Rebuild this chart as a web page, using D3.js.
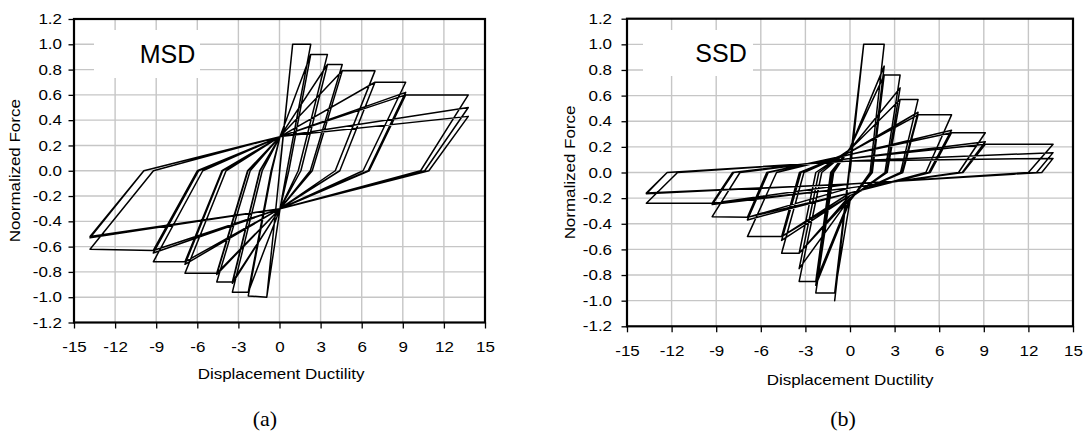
<!DOCTYPE html>
<html>
<head>
<meta charset="utf-8">
<script src="https://d3js.org/d3.v7.min.js"></script>
<style>
  body { margin: 0; background: #fff; }
</style>
</head>
<body>
<svg id="chart"></svg>
<script>
const xTicks = [-15, -12, -9, -6, -3, 0, 3, 6, 9, 12, 15];
const yTicks = [-1.2, -1.0, -0.8, -0.6, -0.4, -0.2, 0.0, 0.2, 0.4, 0.6, 0.8, 1.0, 1.2];

// MSD hysteresis: [displacement ductility, normalized force]
const msdPath = [
  [0, 0], [0.96, 1.0], [-0.93, -1.0], [0.96, 1.0], [-0.93, -1.0], [0.96, 1.0], [2.28, 1.0],
  [0.54, 0], [0.04, -0.30], [-0.93, -1.0], [-2.28, -0.99], [-0.56, 0], [0.04, 0.27], [2.28, 0.92],
  [0.68, 0], [0.04, -0.30], [-2.28, -0.96], [-0.61, 0], [0.04, 0.27], [2.28, 0.92],
  [0.68, 0], [0.04, -0.30], [-2.28, -0.96],
  [-0.61, 0], [0.04, 0.27], [2.28, 0.92], [3.5, 0.92], [1.37, 0], [0.04, -0.30], [-2.28, -0.96], [-3.44, -0.96],
  [-1.26, 0], [0.04, 0.27], [3.5, 0.84], [1.56, 0], [0.04, -0.30], [-3.44, -0.89],
  [-1.42, 0], [0.04, 0.27], [3.5, 0.84], [1.56, 0], [0.04, -0.30], [-3.44, -0.88],
  [-1.44, 0], [0.04, 0.27], [3.5, 0.84], [4.58, 0.84], [2.25, 0], [0.04, -0.30], [-3.44, -0.88], [-4.58, -0.88],
  [-2.14, 0], [0.04, 0.27], [4.58, 0.79], [2.39, 0], [0.04, -0.30], [-4.58, -0.82],
  [-2.3, 0], [0.04, 0.27], [4.58, 0.79], [2.39, 0], [0.04, -0.30], [-4.58, -0.81],
  [-2.33, 0], [0.04, 0.27], [4.58, 0.79], [6.97, 0.79], [4.07, 0], [0.04, -0.30], [-4.58, -0.81], [-6.9, -0.81],
  [-3.9, 0], [0.04, 0.27], [6.97, 0.70], [4.4, 0], [0.04, -0.30], [-6.9, -0.74],
  [-4.15, 0], [0.04, 0.27], [6.97, 0.70], [4.4, 0], [0.04, -0.30], [-6.9, -0.72],
  [-4.2, 0], [0.04, 0.27], [6.97, 0.70], [9.21, 0.70], [6.1, 0], [0.04, -0.30], [-6.9, -0.72], [-9.21, -0.72],
  [-5.6, 0], [0.04, 0.27], [9.21, 0.62], [6.47, 0], [0.04, -0.30], [-9.21, -0.65],
  [-5.9, 0], [0.04, 0.27], [9.21, 0.60], [6.55, 0], [0.04, -0.30], [-9.21, -0.63],
  [-6.0, 0], [0.04, 0.27], [9.21, 0.60], [13.78, 0.60], [10.3, 0], [0.04, -0.30], [-9.21, -0.63], [-13.83, -0.62],
  [-9.2, 0], [0.04, 0.27], [13.78, 0.50], [10.6, 0], [0.04, -0.30], [-13.83, -0.53],
  [-9.9, 0], [0.04, 0.27], [13.78, 0.43], [10.9, 0], [0.04, -0.30], [-13.83, -0.52], [-9.9, 0]
];

// SSD hysteresis
const ssdPath = [
  [0, 0], [0.92, 1.0], [-1.03, -1.0], [0.92, 1.0], [-1.03, -0.94], [0.92, 1.0], [2.3, 1.0],
  [1.35, 0], [0, -0.22], [-1.03, -0.94], [-2.3, -0.94], [-1.1, 0], [0, 0.19], [2.3, 0.83],
  [1.45, 0], [0, -0.22], [-2.3, -0.88], [-1.2, 0], [0, 0.19], [2.3, 0.76],
  [1.5, 0], [0, -0.22], [-2.3, -0.85],
  [-1.3, 0], [0, 0.19], [2.3, 0.76], [3.37, 0.76], [2.35, 0], [0, -0.2], [-2.3, -0.85], [-3.42, -0.85],
  [-1.9, 0], [0, 0.18], [3.37, 0.66], [2.45, 0], [0, -0.2], [-3.42, -0.75],
  [-2.1, 0], [0, 0.18], [3.37, 0.57], [2.5, 0], [0, -0.2], [-3.42, -0.63],
  [-2.3, 0], [0, 0.18], [3.37, 0.57], [4.58, 0.57], [3.4, 0], [0, -0.18], [-3.42, -0.63], [-4.6, -0.63],
  [-3.1, 0], [0, 0.16], [4.58, 0.47], [3.5, 0], [0, -0.18], [-4.6, -0.53],
  [-3.3, 0], [0, 0.16], [4.58, 0.45], [3.55, 0], [0, -0.18], [-4.6, -0.50],
  [-3.4, 0], [0, 0.16], [4.58, 0.45], [6.83, 0.45], [5.1, 0], [0, -0.16], [-4.6, -0.50], [-6.9, -0.50],
  [-4.94, 0], [0, 0.14], [6.83, 0.33], [5.3, 0], [0, -0.16], [-6.9, -0.37],
  [-5.5, 0], [0, 0.14], [6.83, 0.31], [5.4, 0], [0, -0.16], [-6.9, -0.35],
  [-5.6, 0], [0, 0.14], [6.83, 0.31], [9.1, 0.31], [7.3, 0], [0, -0.12], [-6.9, -0.35], [-9.27, -0.345],
  [-7.4, 0], [0, 0.11], [9.1, 0.24], [7.55, 0], [0, -0.12], [-9.27, -0.25],
  [-7.83, 0], [0, 0.11], [9.1, 0.22], [7.6, 0], [0, -0.12], [-9.27, -0.24],
  [-7.9, 0], [0, 0.11], [9.1, 0.22], [13.66, 0.22], [12.0, 0], [0, -0.09], [-9.27, -0.24], [-13.7, -0.24],
  [-11.6, 0], [0, 0.09], [13.66, 0.155], [12.55, 0], [0, -0.09], [-13.7, -0.165],
  [-12.3, 0], [0, 0.09], [13.66, 0.11], [12.9, 0], [0, -0.09], [-13.7, -0.16], [-12.3, 0]
];

const width = 1084, height = 436;
const sans = '"Liberation Sans", Arial, sans-serif';
const serif = '"Liberation Serif", "DejaVu Serif", serif';
const stretch = 1.17;

const panels = [
  { path: msdPath, name: "MSD", yTitle: "Noormalized Force", sub: "(a)",
    left: 74, right: 485, top: 19, bottom: 322.5,
    box: [94, 30, 200, 78], nameX: 167.5, nameY: 63.3,
    yPad: 4.8, xTitleX: 281, xTitleY: 379, yTitleX: 19.5, subX: 265 },
  { path: ssdPath, name: "SSD", yTitle: "Normalized Force", sub: "(b)",
    left: 627, right: 1073, top: 18.7, bottom: 326.3,
    box: [643, 30, 753, 76], nameX: 721, nameY: 61.7,
    yPad: 7.3, xTitleX: 850, xTitleY: 384.5, yTitleX: 575, subX: 843 }
];

const svg = d3.select("#chart")
  .attr("width", width)
  .attr("height", height)
  .attr("viewBox", [0, 0, width, height]);

svg.append("rect").attr("width", width).attr("height", height).attr("fill", "#fff");

panels.forEach(p => {
  const x = d3.scaleLinear().domain([-15, 15]).range([p.left, p.right]);
  const y = d3.scaleLinear().domain([-1.2, 1.2]).range([p.bottom, p.top]);
  const g = svg.append("g");

  // grid
  g.append("g").selectAll("line")
    .data(xTicks.slice(1, -1))
    .join("line")
    .attr("x1", d => x(d)).attr("x2", d => x(d))
    .attr("y1", p.top).attr("y2", p.bottom)
    .attr("stroke", "#c6c6c6").attr("stroke-width", 1.4);
  g.append("g").selectAll("line")
    .data(yTicks.slice(1, -1))
    .join("line")
    .attr("y1", d => y(d)).attr("y2", d => y(d))
    .attr("x1", p.left).attr("x2", p.right)
    .attr("stroke", "#c6c6c6").attr("stroke-width", 1.4);

  // name box
  g.append("rect")
    .attr("x", p.box[0]).attr("y", p.box[1])
    .attr("width", p.box[2] - p.box[0]).attr("height", p.box[3] - p.box[1])
    .attr("fill", "#fff");
  g.append("text")
    .attr("x", p.nameX).attr("y", p.nameY)
    .attr("text-anchor", "middle")
    .style("font-family", sans)
    .style("font-size", "25px")
    .text(p.name);

  // loops
  const line = d3.line().x(d => x(d[0])).y(d => y(d[1]));
  g.append("path")
    .datum(p.path)
    .attr("d", line)
    .attr("fill", "none")
    .attr("stroke", "#000")
    .attr("stroke-width", 1.5)
    .attr("stroke-linejoin", "round");

  // frame
  g.append("rect")
    .attr("x", p.left).attr("y", p.top)
    .attr("width", p.right - p.left).attr("height", p.bottom - p.top)
    .attr("fill", "none").attr("stroke", "#000").attr("stroke-width", 2.2);

  // axes
  const yAxis = g.append("g")
    .attr("transform", `translate(${p.left},0)`)
    .call(d3.axisLeft(y).tickValues(yTicks).tickSize(5.5).tickPadding(p.yPad)
      .tickFormat(d => d.toFixed(1)));
  const xAxis = g.append("g")
    .attr("transform", `translate(0,${p.bottom})`)
    .call(d3.axisBottom(x).tickValues(xTicks).tickSize(6).tickPadding(13)
      .tickFormat(d => String(d)));
  [yAxis, xAxis].forEach(a => {
    a.select(".domain").remove();
    a.selectAll(".tick line").attr("stroke", "#000").attr("stroke-width", 1.3);
    a.selectAll(".tick text")
      .style("font-family", sans)
      .style("font-size", "14.5px")
      .attr("fill", "#000")
      .attr("transform", `scale(${stretch},1)`);
  });

  // titles
  g.append("text")
    .attr("transform", `translate(${p.xTitleX},${p.xTitleY}) scale(${stretch},1)`)
    .attr("text-anchor", "middle")
    .style("font-family", sans)
    .style("font-size", "14.5px")
    .text("Displacement Ductility");
  g.append("text")
    .attr("transform", `translate(${p.yTitleX},${(p.top + p.bottom) / 2}) rotate(-90) scale(${stretch},1)`)
    .attr("text-anchor", "middle")
    .style("font-family", sans)
    .style("font-size", "14.5px")
    .text(p.yTitle);
  g.append("text")
    .attr("x", p.subX).attr("y", 426)
    .attr("text-anchor", "middle")
    .style("font-family", serif)
    .style("font-size", "22px")
    .text(p.sub);
});
</script>
</body>
</html>
